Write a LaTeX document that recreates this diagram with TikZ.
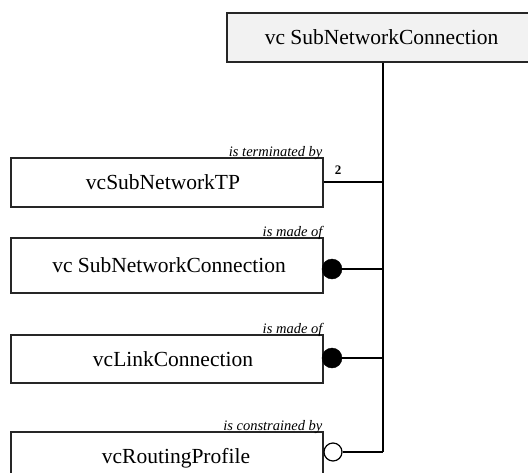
\documentclass[tikz,border=0pt]{standalone}
\usepackage{fontspec}
\setmainfont{Liberation Serif}
\begin{document}
\begin{tikzpicture}[x=1pt,y=-1pt,
  classbox/.style={draw=black!85, line width=1.1pt, rectangle, minimum width=312pt,
                   inner sep=0pt, font=\fontsize{21.5}{24}\selectfont},
  rolelabel/.style={font=\itshape\fontsize{14.5}{16}\selectfont, inner sep=1pt, anchor=south east},
  link/.style={draw=black, line width=1.6pt},
  fulldot/.style={circle, fill=black, draw=black, minimum size=20pt, inner sep=0pt},
  opendot/.style={circle, fill=white, draw=black, line width=1.2pt, minimum size=18pt, inner sep=0pt}]
\useasboundingbox (0,0) rectangle (528,472);
\clip (0,0) rectangle (528,472);

% managed object class at the top (runs past the right margin)
\node[classbox, fill=gray!10, minimum width=309pt, minimum height=49pt] (top) at (381.5,37.5)
  {vc SubNetworkConnection};

% contained classes
\node[classbox, minimum height=49pt] (tp)  at (167,182.5) {\hspace*{-8pt}vcSubNetworkTP};
\node[classbox, minimum height=55pt] (snc) at (167,265.5) {\hspace*{4pt}vc SubNetworkConnection};
\node[classbox, minimum height=48pt] (lc)  at (167,359)   {\hspace*{12pt}vcLinkConnection};
\node[classbox, minimum height=53pt] (rp)  at (167,458.5) {\hspace*{18pt}vcRoutingProfile};

% role names
\node[rolelabel] at ([yshift=-3pt]tp.north east)  {is terminated by};
\node[rolelabel] at ([yshift=-3pt]snc.north east) {is made of};
\node[rolelabel] at ([yshift=-3pt]lc.north east)  {is made of};
\node[rolelabel] at ([yshift=-3pt]rp.north east)  {is constrained by};

% cardinality markers
\node[fulldot] (d2) at (332,269) {};
\node[fulldot] (d3) at (332,358) {};
\node[opendot] (d4) at (333,452) {};
\node[font=\bfseries\fontsize{13}{14}\selectfont, inner sep=0pt] (n2) at (338,170) {2};

% common bus line
\coordinate (bus) at (383,0);
\coordinate (tpend) at ([yshift=0.5pt]tp.east);
\draw[link] (top.south -| bus) -- (d4 -| bus);
\draw[link] (tpend) -- (tpend -| bus);
\draw[link] (d2) -- (d2 -| bus);
\draw[link] (d3) -- (d3 -| bus);
\draw[link] (d4.east) -- (d4 -| bus);
\end{tikzpicture}
\end{document}
